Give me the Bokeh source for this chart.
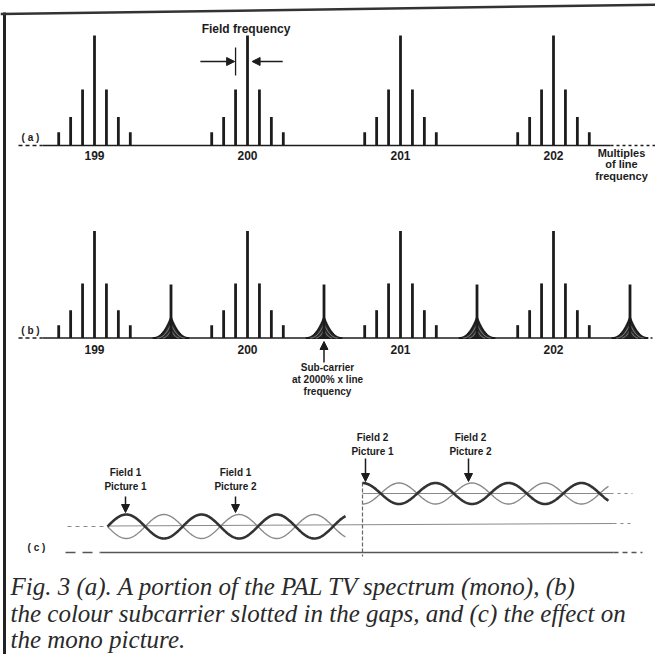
import numpy as np
from bokeh.plotting import figure
from bokeh.models import Range1d, Arrow, NormalHead
from bokeh.core.properties import value
from bokeh.embed import file_html
from bokeh.resources import INLINE

# ---------------- data ----------------
harmonics = [199, 200, 201, 202]
harmonic_labels = ["199", "200", "201", "202"]
sideband_orders = [-3, -2, -1, 0, 1, 2, 3]
sideband_amplitude = [0.12, 0.26, 0.51, 1.00, 0.51, 0.26, 0.12]
field_to_line_ratio = 0.078
subcarrier_positions = [199.5, 200.5, 201.5, 202.5]
subcarrier_amplitude = 0.5
subcarrier_spread = 0.12
axis_note = ["Multiples", "of line", "frequency"]
subcarrier_note = ["Sub-carrier", "at 2000% x line", "frequency"]
field1_labels = [["Field 1", "Picture 1"], ["Field 1", "Picture 2"]]
field2_labels = [["Field 2", "Picture 1"], ["Field 2", "Picture 2"]]
caption_lines = [
    "Fig. 3 (a). A portion of the PAL TV spectrum (mono), (b)",
    "the colour subcarrier slotted in the gaps, and (c) the effect on",
    "the mono picture.",
]

# ---------------- layout (picture pixels) ----------------
W, H = 655, 654
OX, OY = 0, 0
PX_PER_LINE = 153.0
X_199 = 94.0
hx0 = 199 + (OX - X_199) / PX_PER_LINE
hx1 = hx0 + W / PX_PER_LINE
INK = "#1c1c1c"
GREY = "#8a8a8a"
SANS = value("Liberation Sans")

p = figure(width=W, height=H, x_range=Range1d(hx0, hx1), y_range=Range1d(OY + H, OY),
           output_backend="svg", toolbar_location=None, min_border=0,
           x_axis_type=None, y_axis_type=None)
p.extra_x_ranges = {"px": Range1d(OX, OX + W)}
p.outline_line_color = None
p.background_fill_color = "white"
p.border_fill_color = "white"


def label(x, y, txt, size="10px", align="center", rng="px", style="bold",
          font=SANS, color=INK, baseline="middle"):
    p.text(x=[x], y=[y], text=[txt], x_range_name=rng, text_font=font,
           text_font_size=size, text_font_style=style, text_align=align,
           text_baseline=baseline, text_color=color)


def hline(x0, x1, y, dash="solid", width=1.4, color=INK, y1=None):
    p.segment(x0=[x0], y0=[y], x1=[x1], y1=[y if y1 is None else y1],
              x_range_name="px", line_width=width, line_color=color, line_dash=dash)


def arrow(x0, y0, x1, y1, rng="px", size=8):
    p.add_layout(Arrow(end=NormalHead(size=size, fill_color=INK, line_color=INK),
                       x_start=x0, y_start=y0, x_end=x1, y_end=y1,
                       line_color=INK, line_width=1.5, x_range_name=rng))


def spectrum(base, scale):
    xs, tops = [], []
    for h in harmonics:
        for k, a in zip(sideband_orders, sideband_amplitude):
            xs.append(h + k * field_to_line_ratio)
            tops.append(base - a * scale)
    p.segment(x0=xs, y0=[base] * len(xs), x1=xs, y1=tops,
              line_width=2.8, line_color=INK, line_cap="butt")


# ---------------- frame ----------------
p.segment(x0=[4], y0=[12], x1=[4], y1=[670], x_range_name="px",
          line_width=3, line_color="#222222")
p.segment(x0=[0], y0=[13.5], x1=[671], y1=[4], x_range_name="px",
          line_width=2.5, line_color="#333333")

# ---------------- (a) ----------------
BASE_A, SCALE_A = 145, 110
hline(18, 42, BASE_A, dash="4 3")
hline(42, 610, BASE_A)
hline(610, 656, BASE_A, dash="3 3")
spectrum(BASE_A, SCALE_A)
label(30, BASE_A - 8, "( a )", size="10px")
p.text(x=harmonics, y=[BASE_A + 10] * 4, text=harmonic_labels, text_font=SANS,
       text_font_size="12px", text_font_style="bold", text_align="center",
       text_baseline="middle", text_color=INK)
for i, t in enumerate(axis_note):
    label(621, 152 + 11.5 * i, t, size="11px")

# field frequency marker
fr = field_to_line_ratio
label(200 - 0.01, 28, "Field frequency", size="12px", rng="default")
p.segment(x0=[200 - fr], y0=[47], x1=[200 - fr], y1=[75], line_width=1.3, line_color=INK)
arrow(200 - fr - 0.23, 61, 200 - fr - 0.006, 61, rng="default")
arrow(200 + 0.23, 61, 200 + 0.03, 61, rng="default")

# ---------------- (b) ----------------
BASE_B, SCALE_B = 337.5, 107
hline(18, 42, BASE_B, dash="4 3")
hline(42, 640, BASE_B)
hline(640, 658, BASE_B, dash="2 3")
spectrum(BASE_B, SCALE_B)
label(30, BASE_B - 8, "( b )", size="10px")
p.text(x=harmonics, y=[BASE_B + 11] * 4, text=harmonic_labels, text_font=SANS,
       text_font_size="12px", text_font_style="bold", text_align="center",
       text_baseline="middle", text_color=INK)

t = np.linspace(-1, 1, 121)
cx, cy, ix1, iy1, ix2, iy2 = [], [], [], [], [], []
for xc in subcarrier_positions:
    cx.append(list(xc + t * subcarrier_spread))
    cy.append(list(BASE_B - 21 * (1 - np.abs(t)) ** 2.3))
    ix1.append(list(xc + t * subcarrier_spread * 0.75))
    iy1.append(list(BASE_B - 14 * (1 - np.abs(t)) ** 2.2))
    ix2.append(list(xc + t * subcarrier_spread * 0.45))
    iy2.append(list(BASE_B - 8 * (1 - np.abs(t)) ** 2.0))
p.patches(xs=cx, ys=cy, fill_color="#2a2a2a", line_color=INK, line_width=1.8)
p.multi_line(xs=ix1, ys=iy1, line_color="#bbbbbb", line_width=0.7)
p.multi_line(xs=ix2, ys=iy2, line_color="#bbbbbb", line_width=0.7)
p.segment(x0=subcarrier_positions, y0=[BASE_B] * 4, x1=subcarrier_positions,
          y1=[BASE_B - subcarrier_amplitude * SCALE_B] * 4,
          line_width=2.8, line_color=INK, line_cap="butt")

arrow(200.5, 362, 200.5, 341, rng="default")
for i, s in enumerate(subcarrier_note):
    label(327, 367 + 12 * i, s, size="10px")

# ---------------- (c) ----------------
C1, A1, X1S, X1E, P1 = 526, 12, 107, 345, 37.6
C2, A2, X2S, X2E, P2 = 493, 10.5, 362, 608, 36.5
BASE_C = 552

hline(67, 107, C1, dash="4 4", width=1.0, color=GREY)
hline(107, 613, C1 - 0.5, y1=C1 - 3, width=1.0, color=GREY)
hline(613, 632, C1 - 3, dash="3 4", width=1.0, color=GREY)
hline(362, 610, C2, width=1.0, color=GREY)
hline(610, 632, C2, dash="3 4", width=1.0, color=GREY)
hline(65, 100, BASE_C, dash="10 7", width=1.3, color="#555555")
hline(100, 613, BASE_C, width=1.3, color="#555555")
hline(613, 642, BASE_C, dash="5 4", width=1.3, color="#555555")
p.segment(x0=[X2S], y0=[482], x1=[X2S], y1=[556], x_range_name="px",
          line_width=1.2, line_color="#666666", line_dash="4 2")
label(36, BASE_C - 5, "( c )", size="10px")

xw1 = np.linspace(X1S, X1E, 400)
ph1 = np.pi * (xw1 - X1S) / P1
p.line(xw1, C1 + A1 * np.sin(ph1), x_range_name="px", line_width=1.4, line_color=GREY)
p.line(xw1, C1 - A1 * np.sin(ph1), x_range_name="px", line_width=2.6, line_color="#333333")

xw2 = np.linspace(X2S, X2E, 400)
ph2 = np.pi * (xw2 - X2S) / P2
p.line(xw2, C2 + A2 * np.cos(ph2), x_range_name="px", line_width=1.4, line_color=GREY)
p.line(xw2, C2 - A2 * np.cos(ph2), x_range_name="px", line_width=2.6, line_color="#333333")

for (l1, l2), x in zip(field1_labels, [125, 235]):
    label(x, 472, l1)
    label(x, 486, l2)
    arrow(x, 496, x, 512)
for (l1, l2), x, ax in zip(field2_labels, [372, 470], [365, 468]):
    label(x, 437, l1)
    label(x, 451, l2)
    arrow(ax, 458, ax, 481)

# ---------------- caption ----------------
for i, line in enumerate(caption_lines):
    label(10, 586 + 26.5 * i, line, size="25px", align="left", style="italic",
          font=value("Liberation Serif"), color="#2a2a2a", baseline="alphabetic")

open("out.html", "w").write(file_html(p, INLINE))
